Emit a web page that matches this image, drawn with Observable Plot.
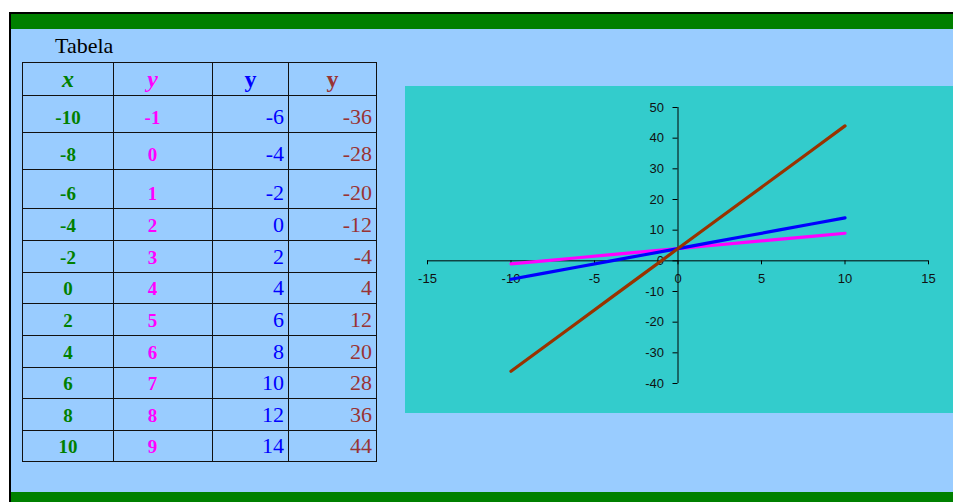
<!DOCTYPE html>
<html>
<head>
<meta charset="utf-8">
<script src="https://cdn.jsdelivr.net/npm/d3@7"></script>
<script src="https://cdn.jsdelivr.net/npm/@observablehq/plot@0.6"></script>
<style>
  html, body { margin: 0; padding: 0; background: #fff; }
  body { width: 953px; height: 502px; position: relative; overflow: hidden; }
  .abs { position: absolute; }
  #title { left: 55px; top: 35px; font: 22px/1 "Liberation Serif", "Times New Roman", serif; color: #000; }
  #tabela {
    position: absolute; left: 22px; top: 62px;
    display: grid;
    grid-template-columns: 91px 99px 76px 88px;
    grid-template-rows: 33px 37px 37px 39px 32px 32px 31px 32px 32px 31px 32px 31px;
    border-left: 1px solid #111; border-top: 1px solid #111;
    font-family: "Liberation Serif", "Times New Roman", serif;
  }
  #tabela > div {
    box-sizing: border-box;
    border-right: 1px solid #111; border-bottom: 1px solid #111;
    display: flex; align-items: flex-end; line-height: 1;
  }
  .hd { font-size: 24px; font-weight: bold; justify-content: center; padding-bottom: 4px; }
  .c0 { color: #008000; }
  .c1 { color: #FF00FF; }
  .c2 { color: #0000FF; }
  .c3 { color: #993333; }
  .it { font-style: italic; }
  .ctr { font-size: 19px; font-weight: bold; justify-content: center; padding-bottom: 5px; }
  .c1.ctr, .c1.hd { padding-right: 21px; }
  .num { font-size: 22px; justify-content: flex-end; padding-right: 4px; padding-bottom: 4px; }
  #chart { left: 405px; top: 86px; }
</style>
</head>
<body>
<div class="abs" style="left:9px;top:12px;width:944px;height:2px;background:#000"></div>
<div class="abs" style="left:9px;top:12px;width:2px;height:490px;background:#000"></div>
<div class="abs" style="left:11px;top:14px;width:942px;height:15px;background:#008000"></div>
<div class="abs" style="left:11px;top:29px;width:942px;height:463px;background:#99CCFF"></div>
<div class="abs" style="left:11px;top:492px;width:942px;height:10px;background:#008000"></div>
<div id="title" class="abs">Tabela</div>
<div id="tabela"></div>
<div id="chart" class="abs"></div>
<script>
// Table values: x and the three y series
const xs = [-10, -8, -6, -4, -2, 0, 2, 4, 6, 8, 10];
const yMagenta = [-1, 0, 1, 2, 3, 4, 5, 6, 7, 8, 9];
const yBlue = [-6, -4, -2, 0, 2, 4, 6, 8, 10, 12, 14];
const yBrown = [-36, -28, -20, -12, -4, 4, 12, 20, 28, 36, 44];

// Column headers
const headers = ["x", "y", "y", "y"];

// Axis tick values
const xTicks = [-15, -10, -5, 0, 5, 10, 15];
const yTicks = [-40, -30, -20, -10, 0, 10, 20, 30, 40, 50];

// Build the table
const table = document.getElementById("tabela");
function cell(text, cls) {
  const d = document.createElement("div");
  d.className = cls;
  d.textContent = text;
  table.appendChild(d);
}
cell(headers[0], "hd c0 it");
cell(headers[1], "hd c1 it");
cell(headers[2], "hd c2");
cell(headers[3], "hd c3");
xs.forEach((x, i) => {
  cell(String(x), "ctr c0");
  cell(String(yMagenta[i]), "ctr c1");
  cell(String(yBlue[i]), "num c2");
  cell(String(yBrown[i]), "num c3");
});

// Chart
const font = "'Liberation Sans', Arial, sans-serif";
const chart = Plot.plot({
  width: 548,
  height: 327,
  marginLeft: 22,
  marginRight: 25,
  marginTop: 21,
  marginBottom: 30,
  x: {domain: [-15, 15], axis: null},
  y: {domain: [-40, 50], axis: null},
  style: {background: "#33CCCC", fontFamily: font, fontSize: "13px", color: "#000", overflow: "visible"},
  marks: [
    Plot.ruleY([0], {x1: -15, x2: 15, stroke: "#000"}),
    Plot.ruleX([0], {y1: -40, y2: 50, stroke: "#000"}),
    Plot.ruleX(xTicks, {x: d => d, y1: 0, y2: 0, insetBottom: -4, stroke: "#000"}),
    Plot.ruleY(yTicks, {y: d => d, x1: 0, x2: 0, insetLeft: -5, stroke: "#000"}),
    Plot.text(xTicks, {x: d => d, y: 0, dy: 18, text: d => String(d), fill: "#111", fontSize: 13}),
    Plot.text(yTicks, {x: 0, y: d => d, dx: -14, textAnchor: "end", text: d => String(d), fill: "#111", fontSize: 13}),
    Plot.line(xs, {x: xs, y: yMagenta, stroke: "#FF00FF", strokeWidth: 3.2}),
    Plot.line(xs, {x: xs, y: yBlue, stroke: "#0000FF", strokeWidth: 3.2}),
    Plot.line(xs, {x: xs, y: yBrown, stroke: "#993300", strokeWidth: 3.2})
  ]
});
document.getElementById("chart").appendChild(chart);
</script>
</body>
</html>
